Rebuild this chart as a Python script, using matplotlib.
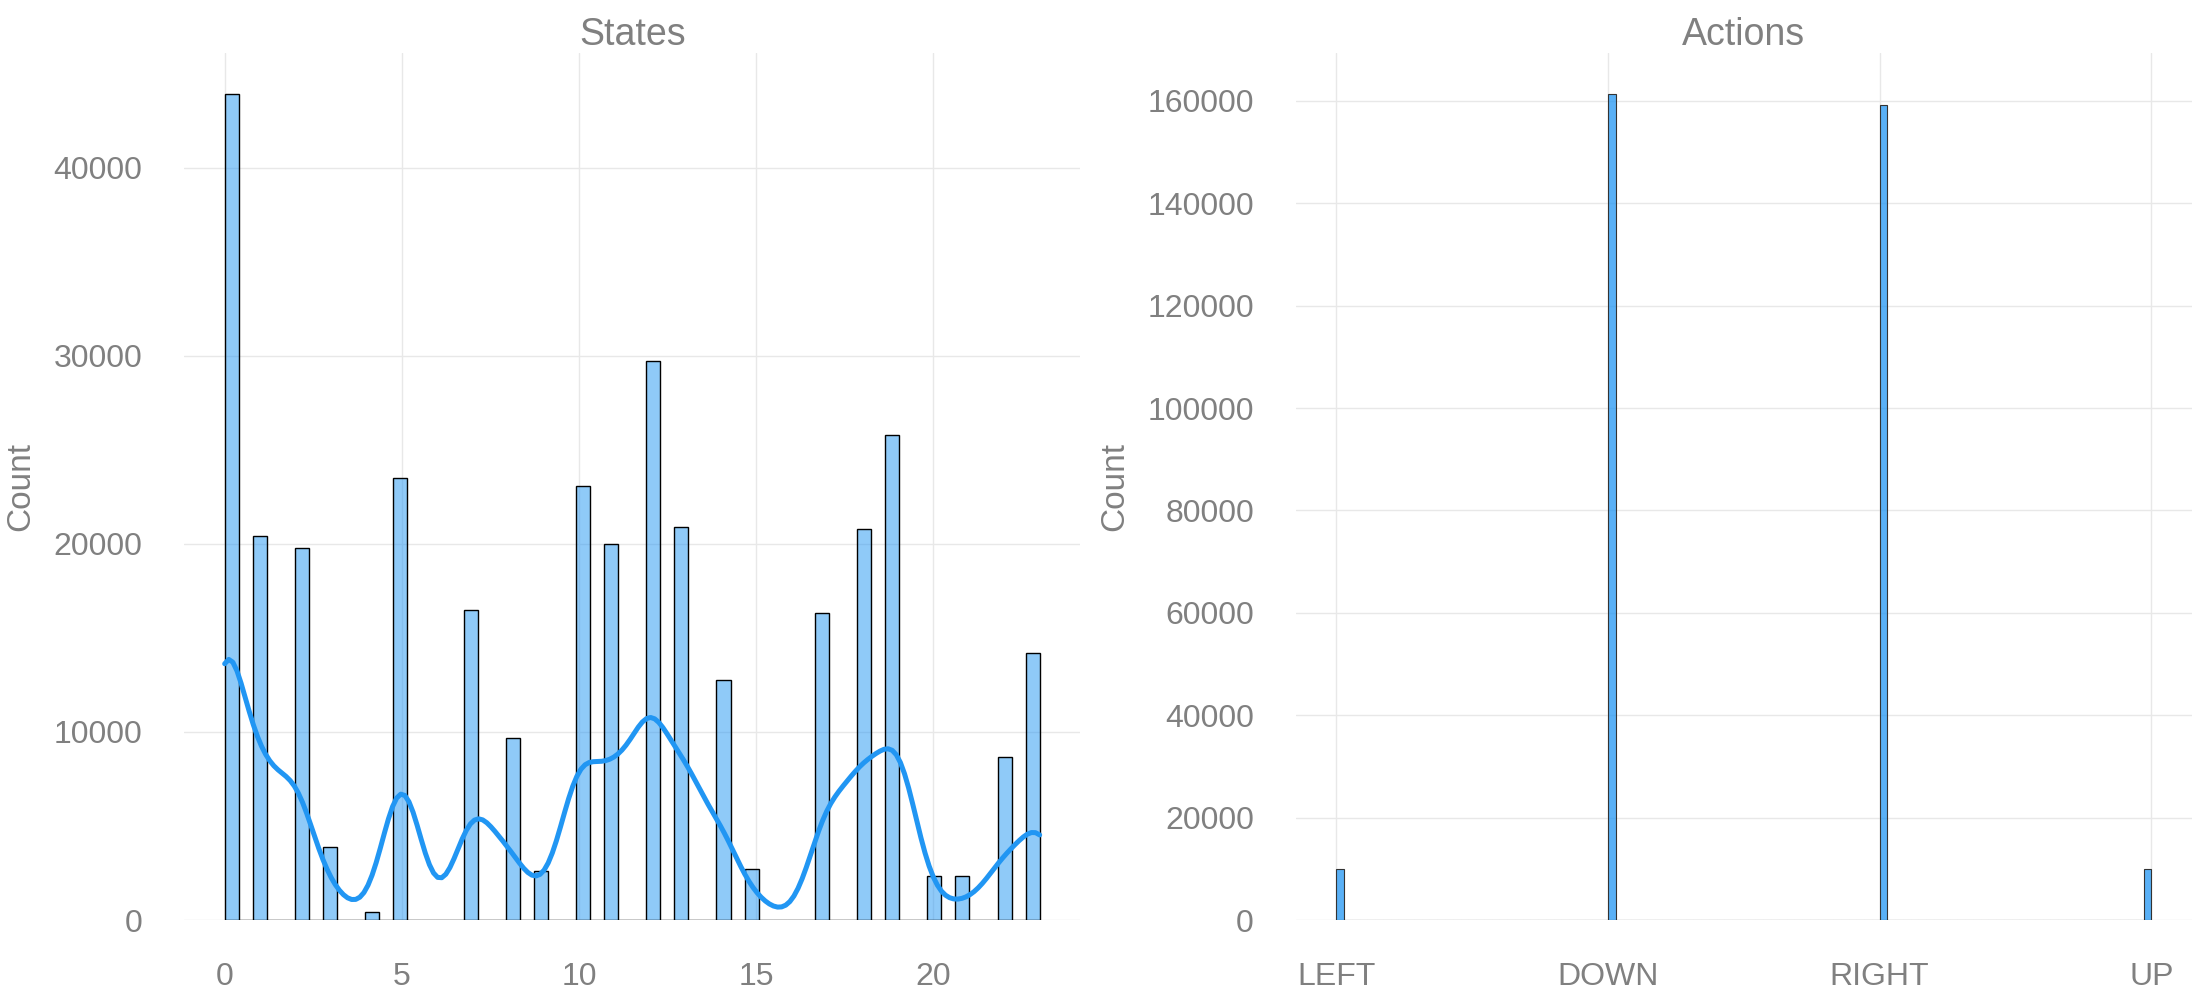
import numpy as np
import matplotlib
matplotlib.use("Agg")
import matplotlib.pyplot as plt
import seaborn as sns

# visits per state (states 6 and 16 never visited)
states = list(range(24))
state_counts = [43900, 20400, 19800, 3900, 400, 23500, 0, 16500, 9650, 2600,
                23100, 20000, 29700, 20900, 12750, 2700, 0, 16300, 20800, 25800,
                2350, 2350, 8650, 14200]

# actions taken
actions = [0, 1, 2, 3]
action_names = ["LEFT", "DOWN", "RIGHT", "UP"]
action_counts = [10050, 161300, 159200, 10000]

# rebuild the raw samples so seaborn can bin them and fit the kde itself
state_samples = np.repeat(states, state_counts)
action_samples = np.repeat(actions, action_counts)

sns.set_style("whitegrid")
plt.rcParams["font.family"] = ["Liberation Sans", "DejaVu Sans"]

grey = "#808080"
blue = "#2196F3"

fig, (ax1, ax2) = plt.subplots(1, 2, figsize=(22, 10), dpi=100)
fig.subplots_adjust(left=0.0836, right=0.9964, bottom=0.08, top=0.947, wspace=0.24)

sns.histplot(state_samples, bins=58, kde=True, color=blue, alpha=0.5,
             edgecolor="black", linewidth=1.0, line_kws={"linewidth": 3.6}, ax=ax1)
sns.histplot(action_samples, bins=105, color=blue, alpha=0.75,
             edgecolor="#333333", linewidth=0.8, ax=ax2)

ax1.set_title("States", fontsize=27, color=grey)
ax2.set_title("Actions", fontsize=27, color=grey)
ax2.set_xticks(actions, action_names)

for ax in (ax1, ax2):
    ax.set_xlabel("")
    ax.set_ylabel("Count", fontsize=24, color=grey, labelpad=12)
    ax.tick_params(length=0, pad=30, labelsize=23, labelcolor=grey)
    ax.grid(True, color="#e8e8e8", linewidth=1.0)
    for side in ax.spines:
        ax.spines[side].set_visible(False)

plt.savefig("out.png", dpi=100)
